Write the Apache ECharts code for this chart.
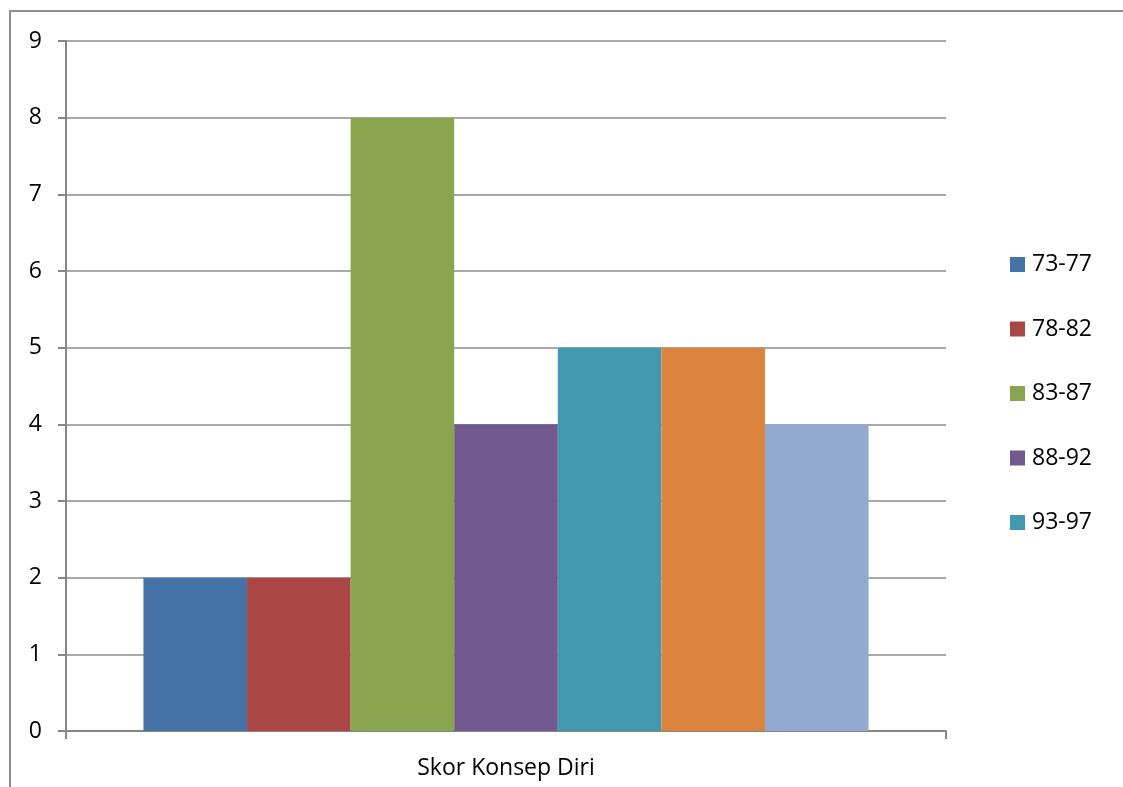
<!DOCTYPE html>
<html>
<head>
<meta charset="utf-8">
<title>Skor Konsep Diri</title>
<script src="https://cdn.jsdelivr.net/npm/echarts@6/dist/echarts.min.js"></script>
<style>
  html, body { margin: 0; padding: 0; background: #fff; }
  #main { width: 1123px; height: 787px; }
</style>
</head>
<body>
<div id="main"></div>
<script>
// data
var categories = ['Skor Konsep Diri'];
var seriesNames = ['73-77', '78-82', '83-87', '88-92', '93-97', '98-102', '103-107'];
var seriesValues = [2, 2, 8, 4, 5, 5, 4];
var legendNames = ['73-77', '78-82', '83-87', '88-92', '93-97']; // last two are cut off in the original
var yTicks = [0, 9, 1]; // min, max, interval

var colors = ['#4572A7', '#AA4643', '#89A54E', '#71588F', '#4198AF', '#DB843D', '#93A9CF'];
var fontName = 'Open Sans, Noto Sans, sans-serif';

var myChart = echarts.init(document.getElementById('main'));

var series = seriesNames.map(function (name, i) {
    return {
        name: name,
        type: 'bar',
        data: [seriesValues[i]],
        barGap: '0%',
        barCategoryGap: '17.6%',
        itemStyle: { color: colors[i] },
        emphasis: { disabled: true }
    };
});

option = {
    backgroundColor: '#fff',
    animation: false,
    color: colors,
    textStyle: { fontFamily: fontName },
    graphic: [{
        // chart frame (only left and top edges visible)
        type: 'rect',
        shape: { x: 10, y: 11, width: 1200, height: 900 },
        style: { fill: 'none', stroke: '#8c8c8c', lineWidth: 2 },
        silent: true
    }],
    grid: { left: 66, top: 41, width: 880, height: 690 },
    legend: {
        data: legendNames,
        orient: 'vertical',
        left: 1010,
        top: 253,
        padding: 0,
        itemWidth: 15,
        itemHeight: 15,
        itemGap: 41.5,
        icon: 'rect',
        textStyle: { fontSize: 23, color: '#000', fontFamily: fontName, padding: [0, 0, 0, 2] }
    },
    xAxis: {
        type: 'category',
        data: categories,
        axisLine: { show: true, lineStyle: { color: '#868686', width: 2 } },
        axisTick: { show: true, length: 8, alignWithLabel: false, lineStyle: { color: '#868686', width: 2 } },
        axisLabel: { fontSize: 23, color: '#000', margin: 26, fontFamily: fontName },
        splitLine: { show: false }
    },
    yAxis: {
        type: 'value',
        min: yTicks[0],
        max: yTicks[1],
        interval: yTicks[2],
        axisLine: { show: true, lineStyle: { color: '#868686', width: 2 } },
        axisTick: { show: true, length: 8, lineStyle: { color: '#868686', width: 2 } },
        axisLabel: { fontSize: 23, color: '#000', margin: 24, fontFamily: fontName },
        splitLine: { show: true, lineStyle: { color: '#8c8c8c', width: 1.5 } }
    },
    series: series
};

myChart.setOption(option);
</script>
</body>
</html>
